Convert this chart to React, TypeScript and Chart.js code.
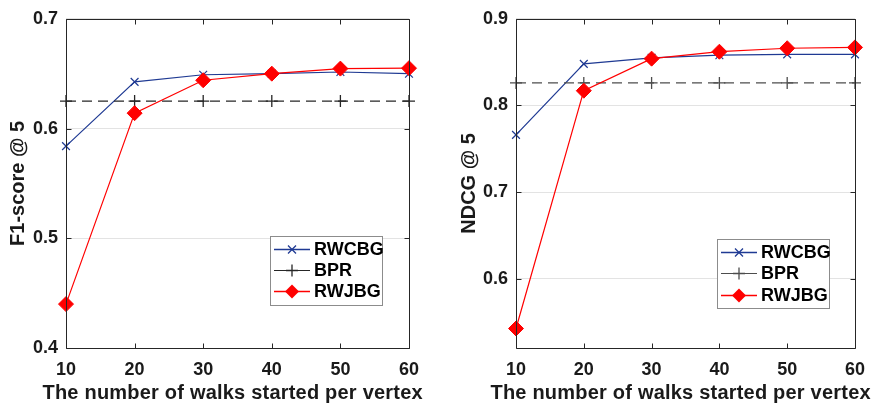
import React, { useEffect, useRef } from 'react';
import { Chart, registerables } from 'chart.js';

Chart.register(...registerables);

const walks = [10, 20, 30, 40, 50, 60];

const f1RWCBG = [0.584, 0.6425, 0.649, 0.65, 0.6515, 0.65];
const f1BPR = [0.625, 0.625, 0.625, 0.625, 0.625, 0.625];
const f1RWJBG = [0.44, 0.614, 0.644, 0.65, 0.6546, 0.655];
const f1Ticks = [0.4, 0.5, 0.6, 0.7];

const ndcgRWCBG = [0.766, 0.848, 0.855, 0.858, 0.859, 0.859];
const ndcgBPR = [0.826, 0.826, 0.826, 0.826, 0.826, 0.826];
const ndcgRWJBG = [0.5425, 0.817, 0.854, 0.862, 0.866, 0.867];
const ndcgTicks = [0.6, 0.7, 0.8, 0.9];

const seriesNames = ['RWCBG', 'BPR', 'RWJBG'];
const xTitle = 'The number of walks started per vertex';

const BLUE = '#1f3a93';
const RED = '#ff0000';
const TEXT = '#1a1a1a';
const FONT_FAMILY = '"Liberation Sans", Arial, Helvetica, sans-serif';
const tickFont = { family: FONT_FAMILY, size: 18, weight: 'bold' as const };
const titleFont = { family: FONT_FAMILY, size: 20, weight: 'bold' as const };
const X_TITLE_WIDTH = 380;

function pts(vals: number[]) {
  return walks.map((x, i) => ({ x, y: vals[i] }));
}

function drawMarker(ctx: CanvasRenderingContext2D, kind: string, x: number, y: number, color: string) {
  ctx.save();
  ctx.strokeStyle = color;
  ctx.fillStyle = color;
  ctx.lineWidth = 1.3;
  ctx.beginPath();
  if (kind === 'x') {
    const r = 4;
    ctx.moveTo(x - r, y - r); ctx.lineTo(x + r, y + r);
    ctx.moveTo(x - r, y + r); ctx.lineTo(x + r, y - r);
    ctx.stroke();
  } else if (kind === '+') {
    const r = 6;
    ctx.moveTo(x - r, y); ctx.lineTo(x + r, y);
    ctx.moveTo(x, y - r); ctx.lineTo(x, y + r);
    ctx.stroke();
  } else {
    const r = 7;
    ctx.moveTo(x - r, y); ctx.lineTo(x, y - r); ctx.lineTo(x + r, y); ctx.lineTo(x, y + r);
    ctx.closePath();
    ctx.fill();
  }
  ctx.restore();
}

interface PanelCfg {
  a: number[]; b: number[]; c: number[];
  ticks: number[]; yMin: number; yMax: number;
  yTitle: string; yWidth: number; yTitlePad: number; padRight: number;
  bprColor: string;
  legendBox: number[]; // x, y, w, h
  lineX: number[]; textX: number; rows: number[];
}

function makeConfig(p: PanelCfg): any {
  const frame = {
    id: 'frame',
    afterDatasetsDraw(chart: any) {
      const { ctx, chartArea: ar, scales } = chart;
      const L = Math.round(ar.left) + 0.5, R = Math.round(ar.right) + 0.5;
      const T = Math.round(ar.top) + 0.5, B = Math.round(ar.bottom) + 0.5;
      ctx.save();
      ctx.strokeStyle = '#262626';
      ctx.lineWidth = 1;
      ctx.beginPath();
      ctx.rect(L, T, R - L, B - T);
      const tl = 5;
      walks.forEach((v) => {
        const x = Math.round(scales.x.getPixelForValue(v)) + 0.5;
        ctx.moveTo(x, B); ctx.lineTo(x, B - tl);
        ctx.moveTo(x, T); ctx.lineTo(x, T + tl);
      });
      p.ticks.forEach((v) => {
        const y = Math.round(scales.y.getPixelForValue(v)) + 0.5;
        ctx.moveTo(L, y); ctx.lineTo(L + tl, y);
        ctx.moveTo(R, y); ctx.lineTo(R - tl, y);
      });
      ctx.stroke();
      ctx.restore();
    },
    afterDraw(chart: any) {
      const ctx = chart.ctx as CanvasRenderingContext2D;
      const ar = chart.chartArea;
      // x-axis title, stretched slightly to the reference's wide MATLAB spacing
      ctx.save();
      ctx.fillStyle = TEXT;
      ctx.font = `bold 20px ${FONT_FAMILY}`;
      (ctx as any).letterSpacing = '0px';
      const w0 = ctx.measureText(xTitle).width;
      const sp = Math.max(0, (X_TITLE_WIDTH - w0) / (xTitle.length - 1));
      (ctx as any).letterSpacing = `${sp.toFixed(2)}px`;
      ctx.textAlign = 'left';
      ctx.textBaseline = 'alphabetic';
      const cx = (ar.left + ar.right) / 2 - 5;
      ctx.fillText(xTitle, cx - X_TITLE_WIDTH / 2, 398.5);
      ctx.restore();

      const [bx, by, bw, bh] = p.legendBox;
      ctx.save();
      ctx.fillStyle = '#ffffff';
      ctx.fillRect(bx, by, bw, bh);
      ctx.strokeStyle = '#8c8c8c';
      ctx.lineWidth = 1;
      ctx.strokeRect(bx + 0.5, by + 0.5, bw, bh);
      const colors = [BLUE, p.bprColor, RED];
      const markers = ['x', '+', 'd'];
      const widths = [1.3, 1.2, 1.6];
      seriesNames.forEach((name, i) => {
        const y = p.rows[i];
        ctx.strokeStyle = colors[i];
        ctx.lineWidth = widths[i];
        ctx.beginPath();
        ctx.moveTo(p.lineX[0], y + 0.5);
        ctx.lineTo(p.lineX[1], y + 0.5);
        ctx.stroke();
        drawMarker(ctx, markers[i], (p.lineX[0] + p.lineX[1]) / 2, y + 0.5, colors[i]);
        ctx.fillStyle = '#000000';
        ctx.font = `bold 18px ${FONT_FAMILY}`;
        ctx.textBaseline = 'middle';
        ctx.textAlign = 'left';
        ctx.fillText(name, p.textX, y + 1);
      });
      ctx.restore();
    },
  };

  return {
    type: 'line',
    data: {
      datasets: [
        {
          label: seriesNames[0], data: pts(p.a), order: 2, clip: false,
          borderColor: BLUE, borderWidth: 1.2, tension: 0,
          pointStyle: 'crossRot', pointRadius: 5.5, pointBorderColor: BLUE,
          pointBorderWidth: 1.2, pointBackgroundColor: BLUE,
        },
        {
          label: seriesNames[1], data: pts(p.b), order: 1, clip: false,
          borderColor: p.bprColor, borderWidth: 1.4, borderDash: [10, 6], tension: 0,
          pointStyle: 'cross', pointRadius: 6, pointBorderColor: p.bprColor,
          pointBorderWidth: 1.3, pointBackgroundColor: p.bprColor,
        },
        {
          label: seriesNames[2], data: pts(p.c), order: 0, clip: false,
          borderColor: RED, borderWidth: 1.2, tension: 0,
          pointStyle: 'rectRot', pointRadius: 7.5, pointBorderColor: RED,
          pointBorderWidth: 1, pointBackgroundColor: RED, backgroundColor: RED,
        },
      ],
    },
    options: {
      responsive: false,
      animation: false,
      events: [],
      layout: { padding: { top: 16, right: p.padRight, bottom: 0, left: 0 } },
      plugins: { legend: { display: false }, tooltip: { enabled: false } },
      scales: {
        x: {
          type: 'linear', min: 10, max: 60,
          afterBuildTicks: (s: any) => { s.ticks = walks.map((v) => ({ value: v })); },
          afterFit: (s: any) => { s.height = 55; },
          grid: { display: false, drawTicks: false },
          border: { display: false },
          ticks: { padding: 11, font: tickFont, color: TEXT, maxRotation: 0, autoSkip: false, callback: (v: any) => String(v) },
          title: { display: false },
        },
        y: {
          type: 'linear', min: p.yMin, max: p.yMax,
          afterBuildTicks: (s: any) => { s.ticks = p.ticks.map((v) => ({ value: v })); },
          afterFit: (s: any) => { s.width = p.yWidth; },
          grid: { color: '#e3e3e3', drawTicks: false, lineWidth: 1 },
          border: { display: false },
          ticks: { padding: 8, font: tickFont, color: TEXT, callback: (v: any) => Number(v).toFixed(1) },
          title: { display: true, text: p.yTitle, font: titleFont, color: TEXT, padding: { top: p.yTitlePad, bottom: 0 } },
        },
      },
    },
    plugins: [frame],
  };
}

function Panel({ cfg }: { cfg: PanelCfg }) {
  const ref = useRef<HTMLCanvasElement | null>(null);
  useEffect(() => {
    if (!ref.current) return;
    const chart = new Chart(ref.current, makeConfig(cfg));
    return () => chart.destroy();
  }, []);
  return <canvas ref={ref} width={438} height={403} style={{ display: 'block', width: 438, height: 403 }} />;
}

const leftCfg: PanelCfg = {
  a: f1RWCBG, b: f1BPR, c: f1RWJBG, ticks: f1Ticks, yMin: 0.4, yMax: 0.7,
  yTitle: 'F1-score @ 5', yWidth: 66, yTitlePad: 6, padRight: 29,
  bprColor: '#262626',
  legendBox: [270, 236, 112, 69], lineX: [274, 310], textX: 314, rows: [249, 270, 291],
};

const rightCfg: PanelCfg = {
  a: ndcgRWCBG, b: ndcgBPR, c: ndcgRWJBG, ticks: ndcgTicks, yMin: 0.52, yMax: 0.9,
  yTitle: 'NDCG @ 5', yWidth: 78, yTitlePad: 19, padRight: 17,
  bprColor: '#4d4d4d',
  legendBox: [279, 239, 112, 69], lineX: [283, 319], textX: 323, rows: [252, 273, 295],
};

export default function App() {
  return (
    <div style={{ position: 'absolute', left: 0, top: 0, width: 876, height: 403, display: 'flex', background: '#fff' }}>
      <Panel cfg={leftCfg} />
      <Panel cfg={rightCfg} />
    </div>
  );
}
